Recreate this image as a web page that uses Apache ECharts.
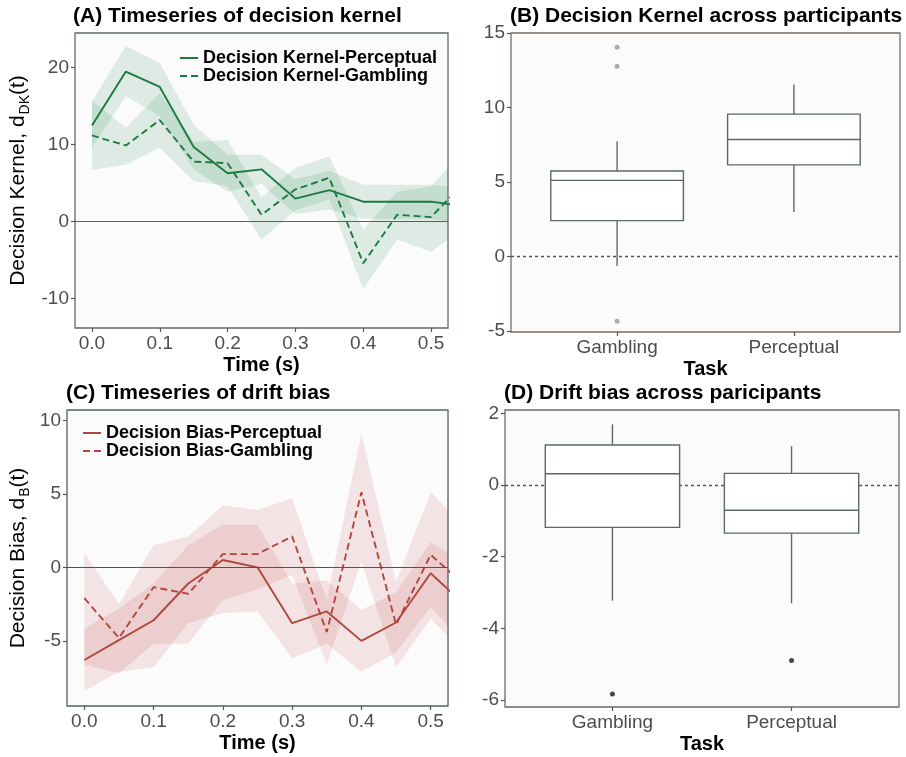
<!DOCTYPE html>
<html>
<head>
<meta charset="utf-8">
<script src="https://cdn.jsdelivr.net/npm/echarts@6/dist/echarts.min.js"></script>
<style>
  html, body { margin: 0; padding: 0; background: #ffffff; }
  #chart { width: 906px; height: 757px; }
</style>
</head>
<body>
<div id="chart"></div>
<script>
// ---- time axis (s) ----
const timeSteps = [0, 0.05, 0.1, 0.15, 0.2, 0.25, 0.3, 0.35, 0.4, 0.45, 0.5, 0.55];
const timeTicks = [0, 0.1, 0.2, 0.3, 0.4, 0.5];

// ---- (A) decision kernel time series ----
const kernelPerceptual   = [12.5, 19.5, 17.5, 9.7, 6.3, 6.8, 3.0, 4.1, 2.6, 2.6, 2.6, 2.0];
const kernelPerceptualLo = [9.6, 16.3, 13.7, 6.8, 3.9, 4.9, 1.0, 1.6, 0.4, 0.4, 0.4, -0.3];
const kernelPerceptualHi = [15.6, 22.8, 20.6, 12.6, 8.7, 8.7, 5.5, 6.6, 4.8, 4.8, 4.8, 4.3];
const kernelGambling     = [11.2, 9.9, 13.2, 7.8, 7.6, 0.9, 4.2, 5.7, -5.4, 0.9, 0.6, 5.2];
const kernelGamblingLo   = [6.7, 7.4, 9.6, 5.3, 4.6, -2.3, 1.5, 2.9, -8.8, -2.3, -3.9, -0.7];
const kernelGamblingHi   = [15.7, 12.2, 16.7, 10.3, 10.6, 3.2, 7.0, 8.5, -1.0, 3.9, 4.6, 9.4];
const kernelTicks = [-10, 0, 10, 20];

// ---- (C) drift bias time series ----
const biasPerceptual   = [-6.3, -4.95, -3.6, -1.1, 0.5, 0.0, -3.8, -3.0, -5.0, -3.75, -0.4, -2.6];
const biasPerceptualLo = [-8.4, -7.1, -6.8, -3.8, -3.1, -3.0, -6.2, -5.2, -7.1, -5.8, -2.7, -5.3];
const biasPerceptualHi = [-4.2, -2.8, -1.1, 1.5, 2.9, 2.9, -1.1, -0.9, -2.9, -1.7, 1.7, 0.3];
const biasGambling     = [-2.1, -4.8, -1.35, -1.8, 0.9, 0.9, 2.1, -4.4, 5.1, -3.9, 0.85, -1.25];
const biasGamblingLo   = [-6.6, -7.2, -5.2, -5.2, -2.2, -1.5, -0.5, -6.6, 0.4, -6.8, -3.5, -5.9];
const biasGamblingHi   = [1.0, -2.5, 1.5, 2.1, 4.2, 3.9, 4.7, -2.2, 9.1, -1.0, 5.1, 2.7];
const biasTicks = [-5, 0, 5, 10];

// ---- box plots across participants: [lower whisker, Q1, median, Q3, upper whisker] ----
const tasks = ['Gambling', 'Perceptual'];
const kernelBoxStats = [
  [-0.63, 2.42, 5.12, 5.75, 7.73],
  [2.99, 6.16, 7.86, 9.56, 11.55]
];
const kernelOutlierTask  = [0, 0, 0];
const kernelOutlierValue = [14.04, 12.77, -4.33];
const kernelBoxTicks = [-5, 0, 5, 10, 15];

const biasBoxStats = [
  [-3.23, -1.18, 0.32, 1.12, 1.70],
  [-3.30, -1.34, -0.70, 0.33, 1.09]
];
const biasOutlierTask  = [0, 1];
const biasOutlierValue = [-5.84, -4.90];
const biasBoxTicks = [-6, -4, -2, 0, 2];

// ---- styling ----
const FONT = 'Liberation Sans, Arial, Helvetica, sans-serif';
const GREEN = '#1d7a3e';
const GREEN_FILL = 'rgba(46,139,87,0.14)';
const RED = '#b0473d';
const RED_FILL = 'rgba(178,40,40,0.11)';
const TICK_COLOR = '#4d4d4d';
const BOX_COLOR = '#5c6868';
const BOX_WIDTH = 0.75;

const chart = echarts.init(document.getElementById('chart'), null, { renderer: 'canvas' });

function pairs(xs, ys) { return xs.map((x, i) => [x, ys[i]]); }

const tickStyle = { show: true, length: 4, lineStyle: { color: '#555', width: 1.2 } };

function timeXAxis(gridIndex) {
  return {
    type: 'value', gridIndex, min: -0.025, max: 0.525,
    axisLine: { show: false, onZero: false },
    splitLine: { show: false },
    axisTick: Object.assign({ customValues: timeTicks }, tickStyle),
    axisLabel: { customValues: timeTicks, formatter: v => v.toFixed(1), color: TICK_COLOR, fontSize: 19, fontFamily: FONT, margin: 6 },
    name: 'Time (s)', nameLocation: 'middle', nameGap: 27,
    nameTextStyle: { fontWeight: 'bold', fontSize: 20, color: '#000', fontFamily: FONT }
  };
}

function taskXAxis(gridIndex) {
  return {
    type: 'value', gridIndex, min: -0.6, max: 1.6,
    axisLine: { show: false, onZero: false },
    splitLine: { show: false },
    axisTick: Object.assign({ customValues: [0, 1] }, tickStyle),
    axisLabel: { customValues: [0, 1], formatter: v => tasks[Math.round(v)], color: TICK_COLOR, fontSize: 19, fontFamily: FONT, margin: 6 },
    name: 'Task', nameLocation: 'middle', nameGap: 27,
    nameTextStyle: { fontWeight: 'bold', fontSize: 20, color: '#000', fontFamily: FONT }
  };
}

function valueYAxis(gridIndex, min, max, ticks, name, sub, nameGap) {
  const ax = {
    type: 'value', gridIndex, min, max,
    axisLine: { show: false, onZero: false },
    splitLine: { show: false },
    axisTick: Object.assign({ customValues: ticks }, tickStyle),
    axisLabel: { customValues: ticks, color: TICK_COLOR, fontSize: 19, fontFamily: FONT, margin: 6 }
  };
  if (name) {
    ax.name = '{n|' + name + '}{s|' + sub + '}{n|(t)}';
    ax.nameLocation = 'middle';
    ax.nameRotate = 90;
    ax.nameGap = nameGap;
    ax.nameTextStyle = {
      fontFamily: FONT,
      rich: {
        n: { fontSize: 21, color: '#000', fontFamily: FONT, verticalAlign: 'top', lineHeight: 24 },
        s: { fontSize: 14, color: '#000', fontFamily: FONT, verticalAlign: 'top', lineHeight: 14, padding: [10, 0, 0, 1] }
      }
    };
  }
  return ax;
}

function bandSeries(idx, lo, hi, fill) {
  return {
    type: 'custom', xAxisIndex: idx, yAxisIndex: idx, clip: true, silent: true, z: 1,
    data: [[timeSteps[0], lo[0]]],
    encode: { x: 0, y: 1 },
    renderItem: (params, api) => {
      const pts = [];
      for (let i = 0; i < timeSteps.length; i++) pts.push(api.coord([timeSteps[i], hi[i]]));
      for (let i = timeSteps.length - 1; i >= 0; i--) pts.push(api.coord([timeSteps[i], lo[i]]));
      return { type: 'polygon', shape: { points: pts }, style: { fill: fill } };
    }
  };
}

function lineSeries(idx, name, ys, color, dashed) {
  return {
    type: 'line', name, xAxisIndex: idx, yAxisIndex: idx, z: 4,
    data: pairs(timeSteps, ys),
    symbol: 'none', clip: true, silent: true,
    lineStyle: { color, width: 1.9, type: dashed ? [7, 4] : 'solid' },
    itemStyle: { color }
  };
}

function zeroLine(idx, color, dashed) {
  return {
    type: 'line', xAxisIndex: idx, yAxisIndex: idx, data: [], z: 2, silent: true,
    markLine: {
      silent: true, symbol: 'none', animation: false,
      label: { show: false },
      lineStyle: { color, width: dashed ? 1.3 : 1.2, type: dashed ? [3, 3] : 'solid' },
      data: [{ yAxis: 0 }]
    }
  };
}

function boxSeries(idx, stats) {
  return {
    type: 'custom', xAxisIndex: idx, yAxisIndex: idx, z: 5, silent: true,
    data: stats.map((s, i) => [i].concat(s)),
    encode: { x: 0, y: [1, 2, 3, 4, 5] },
    renderItem: (params, api) => {
      const x = api.value(0);
      const lo = api.value(1), q1 = api.value(2), med = api.value(3), q3 = api.value(4), hi = api.value(5);
      const h = BOX_WIDTH / 2;
      const tl = api.coord([x - h, q3]);
      const br = api.coord([x + h, q1]);
      const whiskTop = api.coord([x, hi]);
      const whiskBot = api.coord([x, lo]);
      const boxTop = api.coord([x, q3]);
      const boxBot = api.coord([x, q1]);
      const mL = api.coord([x - h, med]);
      const mR = api.coord([x + h, med]);
      const ls = { stroke: BOX_COLOR, lineWidth: 1.4 };
      return {
        type: 'group',
        children: [
          { type: 'line', shape: { x1: whiskTop[0], y1: whiskTop[1], x2: boxTop[0], y2: boxTop[1] }, style: ls },
          { type: 'line', shape: { x1: boxBot[0], y1: boxBot[1], x2: whiskBot[0], y2: whiskBot[1] }, style: ls },
          { type: 'rect', shape: { x: tl[0], y: tl[1], width: br[0] - tl[0], height: br[1] - tl[1] },
            style: { fill: '#ffffff', stroke: BOX_COLOR, lineWidth: 1.4 } },
          { type: 'line', shape: { x1: mL[0], y1: mL[1], x2: mR[0], y2: mR[1] }, style: ls }
        ]
      };
    }
  };
}

function outlierSeries(idx, tasksIdx, values, color) {
  return {
    type: 'scatter', xAxisIndex: idx, yAxisIndex: idx, z: 6, silent: true,
    data: pairs(tasksIdx, values),
    symbol: 'circle', symbolSize: 5,
    itemStyle: { color }
  };
}

const titleStyle = { fontWeight: 'bold', fontSize: 21, color: '#000', fontFamily: FONT };
const legendText = { fontWeight: 'bold', fontSize: 18, color: '#000', fontFamily: FONT, lineHeight: 18 };
const PANEL_BG = '#fbfbfc';

const legendBase = {
  orient: 'vertical', itemGap: 0, itemWidth: 18, itemHeight: 14,
  padding: 0, textStyle: legendText, selectedMode: false,
  itemStyle: { opacity: 0 }
};

const option = {
  backgroundColor: '#ffffff',
  animation: false,
  title: [
    { text: '(A) Timeseries of decision kernel', left: 73, top: 6, textStyle: titleStyle, padding: 0 },
    { text: '(B) Decision Kernel across participants', left: 510, top: 6, textStyle: titleStyle, padding: 0 },
    { text: '(C) Timeseries of drift bias', left: 66, top: 383, textStyle: titleStyle, padding: 0 },
    { text: '(D) Drift bias across paricipants', left: 504, top: 383, textStyle: titleStyle, padding: 0 }
  ],
  legend: [
    Object.assign({ data: ['Decision Kernel-Perceptual', 'Decision Kernel-Gambling'], left: 179, top: 49 }, legendBase),
    Object.assign({ data: ['Decision Bias-Perceptual', 'Decision Bias-Gambling'], left: 82, top: 424 }, legendBase)
  ],
  grid: [
    { left: 75, top: 33, width: 373, height: 295, show: true, borderColor: '#5f6c6c', borderWidth: 1.3, backgroundColor: PANEL_BG, containLabel: false },
    { left: 511, top: 33, width: 389, height: 299, show: true, borderColor: '#7a6a65', borderWidth: 1.3, backgroundColor: PANEL_BG, containLabel: false },
    { left: 67, top: 410, width: 381, height: 296, show: true, borderColor: '#4c6464', borderWidth: 1.3, backgroundColor: PANEL_BG, containLabel: false },
    { left: 505, top: 410, width: 394, height: 297, show: true, borderColor: '#6a6a6a', borderWidth: 1.3, backgroundColor: PANEL_BG, containLabel: false }
  ],
  xAxis: [timeXAxis(0), taskXAxis(1), timeXAxis(2), taskXAxis(3)],
  yAxis: [
    valueYAxis(0, -13.8, 24.5, kernelTicks, 'Decision Kernel, d', 'DK', 43),
    valueYAxis(1, -5.05, 15, kernelBoxTicks),
    valueYAxis(2, -9.43, 10.7, biasTicks, 'Decision Bias, d', 'B', 35),
    valueYAxis(3, -6.2, 2.1, biasBoxTicks)
  ],
  series: [
    // (A)
    bandSeries(0, kernelPerceptualLo, kernelPerceptualHi, GREEN_FILL),
    bandSeries(0, kernelGamblingLo, kernelGamblingHi, GREEN_FILL),
    zeroLine(0, '#8a5040', false),
    lineSeries(0, 'Decision Kernel-Perceptual', kernelPerceptual, GREEN, false),
    lineSeries(0, 'Decision Kernel-Gambling', kernelGambling, GREEN, true),
    // (B)
    zeroLine(1, '#555555', true),
    boxSeries(1, kernelBoxStats),
    outlierSeries(1, kernelOutlierTask, kernelOutlierValue, '#9a9a9a'),
    // (C)
    bandSeries(2, biasPerceptualLo, biasPerceptualHi, RED_FILL),
    bandSeries(2, biasGamblingLo, biasGamblingHi, RED_FILL),
    zeroLine(2, '#3f5c5c', false),
    lineSeries(2, 'Decision Bias-Perceptual', biasPerceptual, RED, false),
    lineSeries(2, 'Decision Bias-Gambling', biasGambling, RED, true),
    // (D)
    zeroLine(3, '#555555', true),
    boxSeries(3, biasBoxStats),
    outlierSeries(3, biasOutlierTask, biasOutlierValue, '#1a1a1a')
  ]
};

chart.setOption(option);
</script>
</body>
</html>
